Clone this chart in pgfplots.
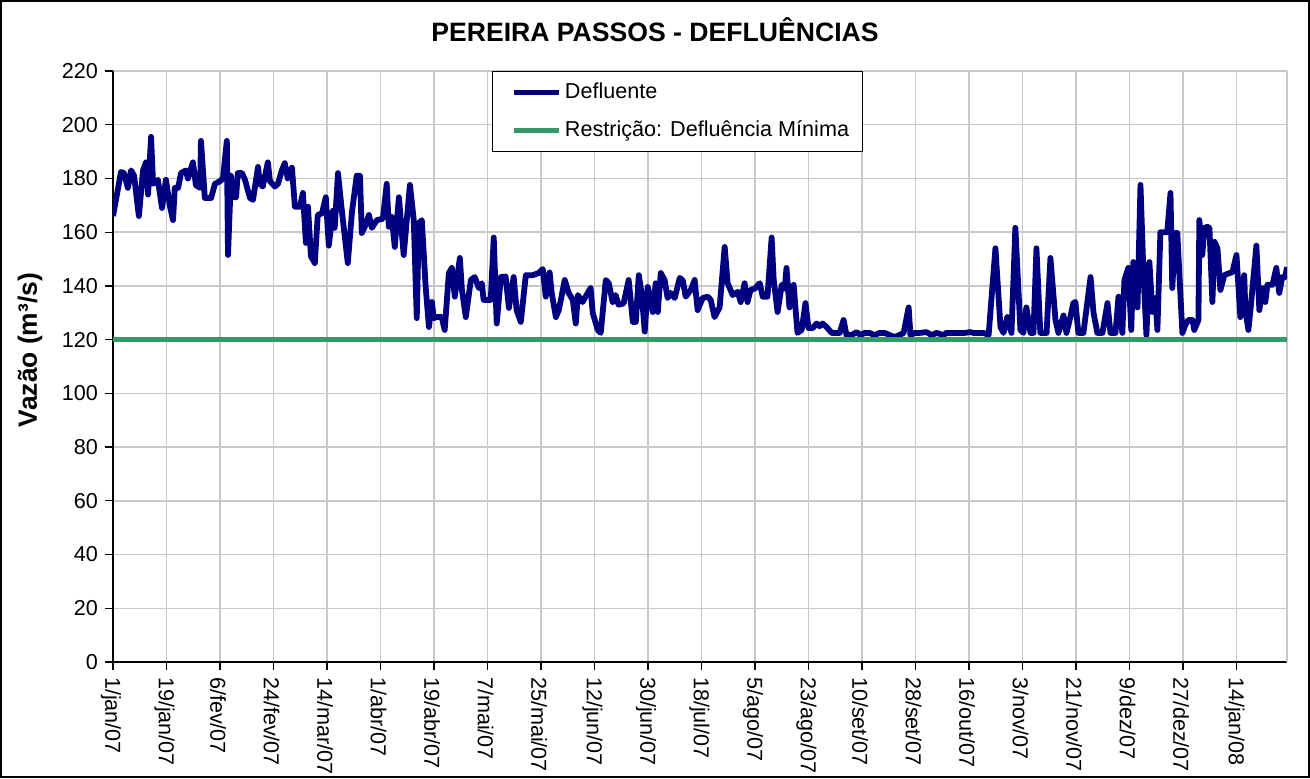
\documentclass[border=0pt]{standalone}
\usepackage{pgfplots}
\pgfplotsset{compat=1.18}
\usepackage{pgfplotstable}
\usepackage{fontspec}
\setmainfont{Liberation Sans}
\definecolor{defl}{RGB}{0,0,128}
\definecolor{restr}{RGB}{51,153,102}
\definecolor{gridc}{RGB}{200,200,200}
\pgfplotsset{shortline/.style={legend image code/.code={\path (0pt,0pt); \draw[##1] (4pt,0pt) -- (26.5pt,0pt);}}}

\pgfplotstableread{
d v
0 166
2.7 182.4
3.7 182
5.0 176.5
6.1 183
7.1 181
8.7 166
10.1 183
11.1 186
11.8 174
12.8 195.5
13.5 178
15.1 179.5
16.5 169
17.8 179.5
19.2 169.5
20.2 164.5
20.8 176.5
21.9 176.5
22.9 182
24.5 183
25.2 180
26.9 186
27.9 177.5
29.3 176.5
29.6 194
30.9 172.7
33.0 172.7
34.3 178
36.0 179
37.0 180
38.3 194
38.7 151.5
39.7 181
40.3 173
41.4 173
42.0 182
43.4 182
44.4 179.5
46.1 172.7
47.1 172
48.8 184.3
49.4 178
50.4 177
52.1 186
52.8 179
54.5 177
55.5 178
56.8 183
57.8 185.7
58.8 180
60.2 184
61.2 169.5
62.9 169.5
63.9 174.6
64.9 156
65.6 169.5
66.6 151
67.9 148.5
68.9 166.4
70.3 167
71.6 173
72.6 155
74.0 168
74.6 161.6
75.7 182
77.0 168
79.0 148.5
80.4 167.5
82.0 181
83.1 181
83.7 159.7
84.7 162
86.1 166.4
87.1 161.6
88.8 164.5
90.8 165
92.1 178
92.8 162
93.8 165.7
94.8 154.5
96.2 173
97.8 151.5
99.9 177.6
101.2 164.5
102.2 128
102.9 163.4
103.9 164.5
105.2 139.6
106.3 124.7
107.3 134
107.9 128
108.9 128.4
110.6 128.4
111.6 123.6
113.0 144.8
114.0 146.7
115.0 136
116.7 150.4
117.4 138.5
118.7 128.4
120.4 142.2
121.7 143.3
123.1 139.2
124.1 141
124.7 134.8
127.1 134.8
128.1 158
129.1 126
130.5 143.3
132.1 143.5
133.2 131.8
134.8 143.3
135.8 131
137.2 126.6
138.9 144
141.2 144
143.2 144.8
144.6 146.3
145.6 136
146.9 145
147.6 137.4
149.0 128.4
150.0 131
152.0 142.2
153.3 137.4
154.7 134.8
155.7 126
156.4 136.6
158.0 134
159.0 136
160.7 139.2
161.4 130
163.1 123.6
164.1 122.5
165.8 142.2
166.8 141
168.1 134
169.1 136.6
170.1 133
171.8 133.5
173.5 142.2
174.9 126.6
175.9 126.6
176.9 144
177.9 137
178.9 123
179.9 139.6
180.6 136.6
181.6 130.3
182.6 141
183.3 130.3
184.3 144.8
185.6 142.2
186.6 135.5
187.6 137.4
189.0 135.5
190.7 143
191.7 142
192.7 136
194.4 138.5
195.7 142.2
196.7 131
198.4 135.5
200.1 136
201.1 134.8
202.4 128.4
204.1 132
205.8 154.5
206.8 141
208.5 136.6
210.2 137.8
211.2 134
212.5 141
213.5 134
214.5 138.5
215.9 139
217.6 141
218.6 136
220.2 136
221.6 158
222.3 142.2
223.6 130.3
225.0 140.4
226.0 138.9
226.6 146.7
227.6 132
229.0 140.4
230.3 122.5
231.7 123.6
233.0 133.6
234.0 124.3
235.4 124.3
236.7 126
237.7 125
238.7 126
240.1 124.7
241.8 122.5
243.4 122.5
244.5 122.5
245.8 127.3
246.8 121.7
248.5 121.7
250.2 122.8
251.5 121.7
252.9 122.5
254.5 122.5
256.2 121.7
257.9 122.5
259.6 122.5
261.3 121.7
262.9 121
264.6 121.7
266.0 122.5
267.7 132
268.3 121.7
269.7 122.5
271.4 122.5
273.7 122.8
275.4 121.7
277.1 122.5
279.4 121.7
280.4 122.5
282.8 122.5
284.8 122.5
286.5 122.5
288.5 122.8
289.5 122.5
291.2 122.5
292.9 122.5
294.6 121.7
296.9 154
298.6 124.7
299.6 122.5
300.9 128.4
302.3 122.5
303.6 161.6
305.3 123.6
306.3 122.5
307.3 132
308.7 122.5
309.7 122.5
310.7 154
312.0 122.5
313.0 122.5
314.1 122.5
315.4 150.4
317.1 127.3
318.1 122.5
319.8 129
320.8 122.5
322.1 128.4
323.1 133.6
323.8 134
324.8 122.5
326.5 122.5
328.9 143.3
329.9 130
331.2 122.5
332.9 122.5
334.6 133.6
335.6 122.5
337.3 122.5
338.3 136
339.6 122.5
340.3 142.2
341.6 146.7
342.6 123.6
343.3 148.9
344.7 132
345.7 177.6
346.7 144.8
347.7 121.7
348.7 148.9
349.7 130.3
350.7 135.5
351.4 123.6
352.4 160
354.1 160
354.7 160
355.8 174.6
356.4 139.2
357.4 159.7
358.1 159.7
358.8 144
359.8 122.5
360.8 125.5
361.8 127.3
363.2 127.3
363.8 123.6
365.2 127.3
365.5 164.5
366.5 151.5
367.2 161.6
368.2 162
368.9 161.6
369.9 134
370.6 156.4
371.6 154
372.6 138.5
373.9 144
375.6 144.8
376.6 145
378.0 151.5
379.3 128.4
380.6 144
381.0 131
382.0 123.6
382.7 131
384.7 155
385.7 131
386.7 139.2
387.7 134
388.4 140.4
390.1 140.4
391.4 146.7
392.4 137.4
393.4 143.3
394.4 143.3
395.0 147
}\defluente

\begin{document}
\begin{tikzpicture}
\begin{axis}[
  at={(0,0)}, anchor=south west,
  scale only axis,
  width=587pt, height=295.5pt,
  xmin=0, xmax=395,
  ymin=0, ymax=220,
  ytick={0,20,...,220},
  xtick={0,18,...,378},
  xticklabels={1/jan/07,19/jan/07,6/fev/07,24/fev/07,14/mar/07,1/abr/07,19/abr/07,7/mai/07,25/mai/07,12/jun/07,30/jun/07,18/jul/07,5/ago/07,23/ago/07,10/set/07,28/set/07,16/out/07,3/nov/07,21/nov/07,9/dez/07,27/dez/07,14/jan/08},
  extra x ticks={395},
  extra x tick labels={},
  extra x tick style={major tick length=0pt},
  axis x line*=bottom,
  axis y line*=left,
  axis line style={line width=0.9pt, black, -},
  tick align=outside,
  major tick length=4pt,
  tick style={black, line width=0.6pt},
  grid=major,
  major grid style={gridc, line width=0.7pt},
  /pgf/number format/assume math mode=true,
  ticklabel style={font=\fontsize{10.8}{12}\selectfont},
  xticklabel style={rotate=-90, anchor=west, yshift=-1pt},
  legend style={
    at={(0.3228,1.0)}, anchor=north west,
    draw=black, line width=0.6pt, fill=white,
    inner xsep=5.5pt, inner ysep=4.5pt,
    row sep=7pt,
    font=\fontsize{10.8}{12}\selectfont,
    nodes={inner sep=1.3pt},
  },
  legend cell align=left,
  shortline,
]
\addplot[defl, line width=2.9pt, line join=round]
  table[x=d, y=v] {\defluente};
\addlegendentry{Defluente}
\addplot[restr, line width=2.2pt]
  coordinates {(0,120) (395,120)};
\addlegendentry{Restrição: Defluência Mínima}
\end{axis}
\node[font=\bfseries\fontsize{13.3}{15}\selectfont] at (271pt,316pt) {PEREIRA PASSOS - DEFLUÊNCIAS};
\node[font=\bfseries\fontsize{13.2}{15}\selectfont, rotate=90] at (-41.5pt,156pt) {Vazão (m³/s)};
\draw[black, line width=0.8pt] (-56pt,-57.5pt) rectangle (598pt,330.5pt);
\pgfresetboundingbox
\path[use as bounding box] (-56.5pt,-58pt) rectangle (598.5pt,331pt);
\end{tikzpicture}
\end{document}
